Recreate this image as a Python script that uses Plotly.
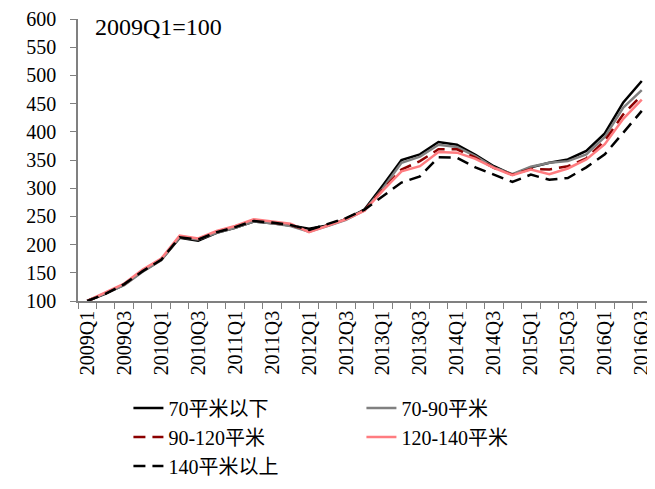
import plotly.graph_objects as go

# quarters 2009Q1 .. 2016Q3
quarters = [f"{y}Q{q}" for y in range(2009, 2017) for q in range(1, 5)][:31]

# index values (2009Q1 = 100)
s_70_below = [100, 113, 129, 153, 173, 212, 207, 221, 230, 241, 238, 234, 228, 234, 245, 262,
              305, 350, 360, 382, 377, 359, 339, 324, 337, 345, 351, 366, 397, 452, 490]
s_70_90 = [100, 114, 128, 152, 172, 213, 209, 221, 230, 241, 238, 233, 223, 233, 244, 261,
           300, 345, 356, 377, 373, 357, 337, 325, 338, 345, 348, 360, 391, 443, 474]
s_90_120 = [100, 114, 130, 154, 174, 214, 210, 223, 232, 243, 239, 235, 224, 235, 246, 261,
            298, 333, 348, 369, 369, 354, 336, 324, 334, 333, 339, 353, 384, 431, 465]
s_120_140 = [100, 115, 131, 156, 175, 216, 211, 224, 233, 245, 241, 237, 222, 234, 245, 260,
             296, 330, 339, 364, 363, 352, 336, 323, 333, 325, 335, 351, 378, 423, 457]
s_140_above = [100, 113, 130, 153, 173, 213, 209, 222, 231, 242, 239, 235, 226, 236, 247, 262,
               286, 310, 321, 355, 354, 337, 324, 311, 324, 315, 318, 337, 360, 399, 437]

names = ["70平米以下", "70-90平米", "90-120平米", "120-140平米", "140平米以上"]
series = [s_70_below, s_70_90, s_90_120, s_120_140, s_140_above]
colors = ["#000000", "#808080", "#8B0000", "#FF7C80", "#000000"]
dashes = ["solid", "solid", "12px,7px", "solid", "12px,7px"]

fig = go.Figure()
for name, vals, c, d in zip(names, series, colors, dashes):
    fig.add_trace(go.Scatter(x=quarters, y=vals, name=name, mode="lines",
                             line=dict(color=c, width=2.5, dash=d)))

tick_text = [q if i % 2 == 0 else "" for i, q in enumerate(quarters)]

serif = "'Liberation Serif', 'Noto Sans CJK SC', serif"

# page body has an 8px margin, so the figure is a bit smaller than the window
fig.update_layout(
    width=647, height=481,
    margin=dict(l=70, r=4, t=11, b=182),
    plot_bgcolor="white", paper_bgcolor="white",
    font=dict(family=serif, size=20, color="black"),
    showlegend=True,
    legend=dict(orientation="h", x=0.088, y=-0.31, xanchor="left", yanchor="top",
                entrywidth=188, entrywidthmode="pixels",
                font=dict(family=serif, size=20), bgcolor="rgba(0,0,0,0)"),
    annotations=[dict(text="2009Q1=100", x=0.027, y=0.97, xref="paper", yref="paper",
                      xanchor="left", yanchor="middle", showarrow=False,
                      font=dict(family=serif, size=24))],
)
fig.update_xaxes(type="category", range=[-0.5, len(quarters) - 0.5],
                 tickvals=quarters, ticktext=tick_text, tickangle=-90,
                 tickson="boundaries", ticks="outside", ticklen=6, tickcolor="#808080",
                 showline=True, linecolor="#808080", linewidth=1.5, showgrid=False,
                 tickfont=dict(family=serif, size=20), automargin=False)
fig.update_yaxes(range=[100, 600], dtick=50, ticks="outside", ticklen=6, tickcolor="#808080",
                 showline=True, linecolor="#808080", linewidth=1.5, showgrid=False,
                 zeroline=False, tickfont=dict(family=serif, size=20),
                 ticklabelstandoff=10, automargin=False)

fig.write_html("out.html")
